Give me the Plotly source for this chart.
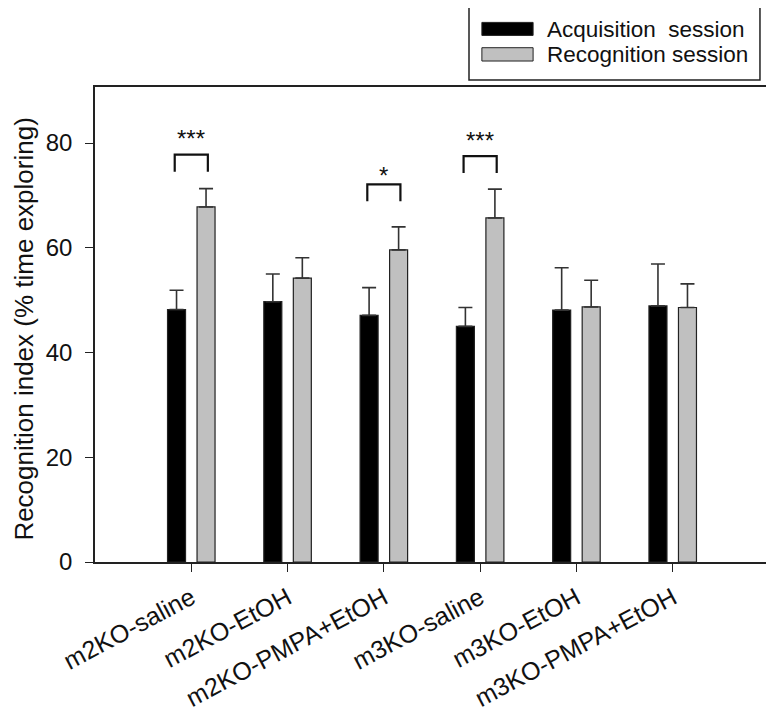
import plotly.graph_objects as go

categories = ["m2KO-saline", "m2KO-EtOH", "m2KO-PMPA+EtOH",
              "m3KO-saline", "m3KO-EtOH", "m3KO-PMPA+EtOH"]
acq_mean = [48.2, 49.7, 47.1, 45.0, 48.1, 48.9]
acq_sem = [3.7, 5.3, 5.3, 3.6, 8.1, 8.0]
rec_mean = [67.8, 54.2, 59.6, 65.7, 48.7, 48.6]
rec_sem = [3.5, 3.9, 4.4, 5.5, 5.1, 4.5]

sig_groups = [0, 2, 3]
sig_labels = ["***", "*", "***"]
sig_top = [77.8, 72.1, 77.5]
sig_leg = [74.5, 68.9, 74.3]
sig_label_y = [78.0, 70.8, 77.6]

series_names = ["Acquisition  session", "Recognition session"]
series_colors = ["#000000", "#c0c0c0"]
y_title = "Recognition index (% time exploring)"

FONT = "Liberation Sans, Arial, sans-serif"
x_idx = list(range(len(categories)))

fig = go.Figure()
for name, color, means, sems in [
    (series_names[0], series_colors[0], acq_mean, acq_sem),
    (series_names[1], series_colors[1], rec_mean, rec_sem),
]:
    fig.add_trace(go.Bar(
        x=x_idx, y=means, name=name,
        marker=dict(color=color, line=dict(color="#222222", width=1.2)),
        error_y=dict(type="data", symmetric=False, array=sems,
                     arrayminus=[0] * len(sems), color="#333333",
                     thickness=1.6, width=7),
        showlegend=False,
    ))

shapes = []
annotations = []
off = 0.172
for g, lab, top, leg, ly in zip(sig_groups, sig_labels, sig_top, sig_leg, sig_label_y):
    shapes.append(dict(type="path", xref="x", yref="y",
                       path=f"M {g-off},{leg} L {g-off},{top} L {g+off},{top} L {g+off},{leg}",
                       line=dict(color="#111111", width=2.2)))
    annotations.append(dict(x=g, y=ly, xref="x", yref="y", text=lab,
                            showarrow=False, yanchor="bottom",
                            font=dict(family=FONT, size=24, color="#111111")))

# manual legend (wide swatches)
shapes.append(dict(type="rect", xref="paper", yref="paper",
                   x0=0.5549, x1=0.9866, y0=1.0147, y1=1.1768,
                   line=dict(color="#222222", width=1.5), fillcolor="white"))
sw_y = [(1.1086, 1.136), (1.0547, 1.0827)]
txt_y = [1.122, 1.069]
for (y0, y1), ty, name, color in zip(sw_y, txt_y, series_names, series_colors):
    shapes.append(dict(type="rect", xref="paper", yref="paper",
                       x0=0.574, x1=0.650, y0=y0, y1=y1,
                       line=dict(color="#222222", width=1), fillcolor=color))
    annotations.append(dict(x=0.667, y=ty, xref="paper", yref="paper",
                            text=name.replace("  ", "&nbsp; "), showarrow=False,
                            xanchor="left", yanchor="middle",
                            font=dict(family=FONT, size=22.5, color="#111111")))

# y-axis title
annotations.append(dict(x=-0.1048, y=0.49, xref="paper", yref="paper",
                        text=y_title, textangle=-90, showarrow=False,
                        xanchor="center", yanchor="middle",
                        font=dict(family=FONT, size=26, color="#111111")))

fig.update_layout(
    width=774, height=713,
    margin=dict(l=87, r=13, t=79, b=159),
    paper_bgcolor="white", plot_bgcolor="white",
    barmode="group", bargap=0.387, bargroupgap=0.39,
    font=dict(family=FONT, size=24, color="#111111"),
    shapes=shapes, annotations=annotations,
    showlegend=False,
)
fig.update_xaxes(
    range=[-1, 6], tickmode="array", tickvals=x_idx, ticktext=categories,
    tickangle=-28, ticks="outside", ticklen=8, tickwidth=1.2, tickcolor="#222",
    showline=True, linecolor="#222222", linewidth=1.5, mirror=True,
    showgrid=False, zeroline=False, automargin=False,
    ticklabelstandoff=2,
    tickfont=dict(family=FONT, size=25, color="#111111"),
)
fig.update_yaxes(
    range=[0, 90.7], tickvals=[0, 20, 40, 60, 80],
    ticks="outside", ticklen=8, tickwidth=1.2, tickcolor="#222",
    showline=True, linecolor="#222222", linewidth=1.5, mirror=True,
    showgrid=False, zeroline=False, automargin=False,
    tickfont=dict(family=FONT, size=24, color="#111111"),
    ticklabelstandoff=8,
)

fig.write_html("out.html")
